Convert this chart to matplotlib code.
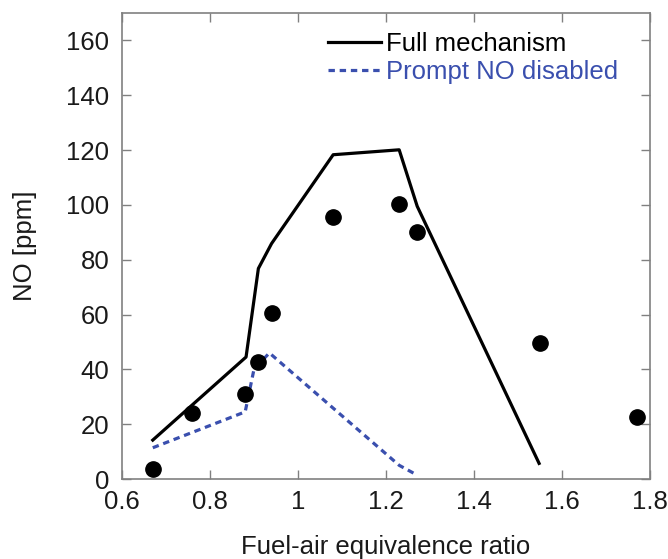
import matplotlib
matplotlib.use('Agg')
import matplotlib.pyplot as plt

plt.rcParams['font.family'] = ['Liberation Sans', 'DejaVu Sans']

# full mechanism model
full_phi = [0.67, 0.882, 0.91, 0.94, 1.08, 1.23, 1.271, 1.548]
full_no = [14.2, 44.5, 76.8, 85.9, 118.3, 120.1, 99.5, 5.7]

# prompt NO disabled
prompt_phi = [0.67, 0.88, 0.90, 0.935, 1.23, 1.27]
prompt_no = [11.4, 24.5, 40.0, 46.0, 5.0, 1.5]

# measurements
exp_phi = [0.67, 0.76, 0.88, 0.91, 0.94, 1.08, 1.23, 1.27, 1.55, 1.77]
exp_no = [3.6, 23.9, 30.9, 42.8, 60.4, 95.6, 100.5, 90.1, 49.8, 22.5]

blue = '#3a4fae'
gray = '#808080'
fs = 18.5

fig = plt.figure(figsize=(6.68, 5.59), dpi=100)
ax = fig.add_axes([0.1826, 0.1431, 0.7904, 0.8336])

ax.plot(full_phi, full_no, color='black', lw=2.3, label='Full mechanism')
ax.plot(prompt_phi, prompt_no, color=blue, lw=2.3, ls=(0, (2.0, 1.5)),
        label='Prompt NO disabled')
ax.plot(exp_phi, exp_no, 'o', color='black', ms=11, zorder=3)

ax.set_xlim(0.6, 1.8)
ax.set_ylim(0, 170)
ax.set_xticks([0.6, 0.8, 1.0, 1.2, 1.4, 1.6, 1.8])
ax.set_xticklabels(['0.6', '0.8', '1', '1.2', '1.4', '1.6', '1.8'])
ax.set_yticks(range(0, 161, 20))

ax.tick_params(direction='in', length=6.5, width=1, color=gray,
               top=True, right=True, labelsize=fs, labelcolor='#1a1a1a')
ax.tick_params(axis='x', pad=8)
ax.tick_params(axis='y', pad=9)
for s in ax.spines.values():
    s.set_color(gray)
    s.set_linewidth(1.2)

ax.set_xlabel('Fuel-air equivalence ratio', fontsize=fs, color='#1a1a1a', labelpad=15)
ax.set_ylabel('NO [ppm]', fontsize=fs, color='#1a1a1a', labelpad=21)

ax.legend(loc='upper left', bbox_to_anchor=(0.352, 1.003), frameon=False,
          fontsize=fs, handlelength=2.05, handletextpad=0.2, labelspacing=0.15,
          borderpad=0.3, labelcolor='linecolor')

fig.savefig('out.png', dpi=100)
